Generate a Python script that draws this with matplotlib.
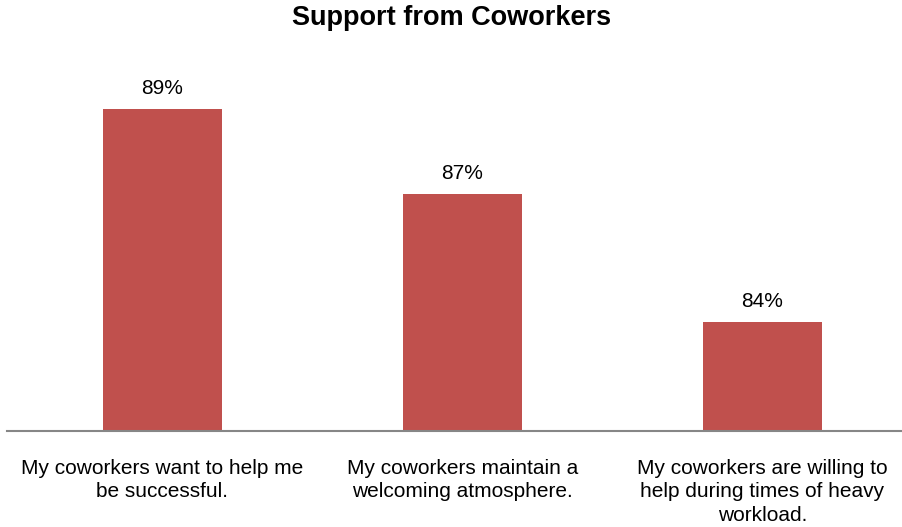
import matplotlib
matplotlib.use("Agg")
import matplotlib.pyplot as plt

plt.rcParams['font.family'] = ['Liberation Sans', 'DejaVu Sans']

categorias = [
    "My coworkers want to help me\nbe successful.",
    "My coworkers maintain a\nwelcoming atmosphere.",
    "My coworkers are willing to\nhelp during times of heavy\nworkload.",
]
percentuais = [89, 87, 84]

fig = plt.figure(figsize=(9.03, 5.27), dpi=100)
ax = fig.add_axes([7 / 903, 1 - 431 / 527, 896 / 903, 371 / 527])

x = list(range(len(categorias)))
barras = ax.bar(x, percentuais, width=0.397, color='#C0504D', zorder=2)

for b, v in zip(barras, percentuais):
    ax.annotate(f"{v}%", (b.get_x() + b.get_width() / 2, v),
                xytext=(0, 8), textcoords='offset points',
                ha='center', va='bottom', fontsize=15)

ax.set_xlim(-0.518, -0.518 + 896 / 300)
ax.set_ylim(81.44, 81.44 + 371 / 42.6)

ax.set_xticks(x)
ax.set_xticklabels(categorias, fontsize=15, linespacing=1.3)
ax.tick_params(axis='x', length=0, pad=20)
ax.set_yticks([])

for lado in ['top', 'right', 'left']:
    ax.spines[lado].set_visible(False)
ax.spines['bottom'].set_color('#868686')
ax.spines['bottom'].set_linewidth(1.5)

fig.text(0.5, 1 - 18 / 527, "Support from Coworkers", ha='center', va='center',
         fontsize=19.5, fontweight='bold')

fig.savefig("out.png", dpi=100)
